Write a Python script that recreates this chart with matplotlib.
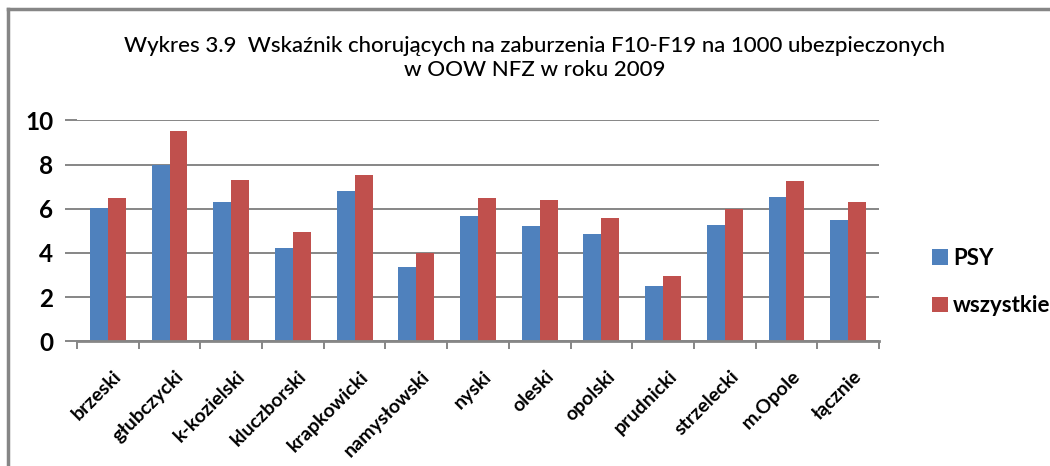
import matplotlib
matplotlib.use("Agg")
import matplotlib.pyplot as plt
import numpy as np
from matplotlib.lines import Line2D
from matplotlib.patches import Patch

categories = ["brzeski", "głubczycki", "k-kozielski", "kluczborski", "krapkowicki",
              "namysłowski", "nyski", "oleski", "opolski", "prudnicki",
              "strzelecki", "m.Opole", "łącznie"]
psy = [6.03, 7.97, 6.30, 4.22, 6.80, 3.36, 5.67, 5.22, 4.86, 2.50, 5.26, 6.53, 5.49]
wszystkie = [6.49, 9.52, 7.30, 4.95, 7.53, 3.98, 6.49, 6.40, 5.58, 2.96, 5.99, 7.25, 6.30]
series_names = ["PSY", "wszystkie"]
yticks = [0, 2, 4, 6, 8, 10]
title = "Wykres 3.9  Wskaźnik chorujących na zaburzenia F10-F19 na 1000 ubezpieczonych\nw OOW NFZ w roku 2009"

plt.rcParams['font.family'] = ['Lato', 'DejaVu Sans']

W, H = 1050, 466
fig = plt.figure(figsize=(W / 100, H / 100), dpi=100)
fig.patch.set_facecolor("white")

ax = fig.add_axes([77 / W, 1 - 341.3 / H, (879 - 77) / W, (341.3 - 120.3) / H])

x = np.arange(len(categories))
bw = 0.29
blue = "#4F81BD"
red = "#C0504D"
grid = "#868686"

ax.bar(x - bw / 2, psy, bw, color=blue, zorder=3)
ax.bar(x + bw / 2, wszystkie, bw, color=red, zorder=3)

ax.set_xlim(-0.5, len(categories) - 0.5)
ax.set_ylim(0, 10)
ax.set_yticks(yticks)
ax.set_yticklabels([str(t) for t in yticks], fontsize=17.5, fontweight="bold")
for t in yticks:
    ax.axhline(t, color=grid, lw=1.4, zorder=1)

for s in ["top", "right", "left"]:
    ax.spines[s].set_visible(False)
ax.spines["bottom"].set_color(grid)
ax.spines["bottom"].set_linewidth(2)
ax.spines["bottom"].set_zorder(4)

ax.tick_params(axis="y", length=9, width=1.4, color=grid, pad=8)
# category boundary ticks
ax.set_xticks(np.arange(-0.5, len(categories), 1.0), minor=False)
ax.set_xticklabels([])
ax.tick_params(axis="x", which="major", length=6, width=1.4, color=grid)
ax.set_xticks(x + 0.08, minor=True)
ax.set_xticklabels(categories, minor=True, rotation=45, ha="right",
                   rotation_mode="anchor", fontsize=14, fontweight="bold")
ax.tick_params(axis="x", which="minor", length=0, pad=19)

fig.text(535 / W, 1 - 58 / H, title, ha="center", va="center", fontsize=16,
         linespacing=1.25, fontweight="medium")

handles = [Patch(facecolor=blue, label=series_names[0]),
           Patch(facecolor=red, label=series_names[1])]
fig.legend(handles=handles, loc="center left", bbox_to_anchor=(912 / W, 1 - 282 / H),
           frameon=False, prop={"weight": "bold", "size": 16},
           handlelength=0.7, handleheight=0.7, handletextpad=0.25, labelspacing=1.2)

# outer frame (left and top edges visible)
fig.add_artist(Line2D([8 / W, 8 / W], [0, 1 - 9 / H], transform=fig.transFigure,
                      color=grid, lw=2.5))
fig.add_artist(Line2D([8 / W, 1], [1 - 9 / H, 1 - 9 / H], transform=fig.transFigure,
                      color=grid, lw=2.5))

fig.savefig("out.png", dpi=100, facecolor="white")
